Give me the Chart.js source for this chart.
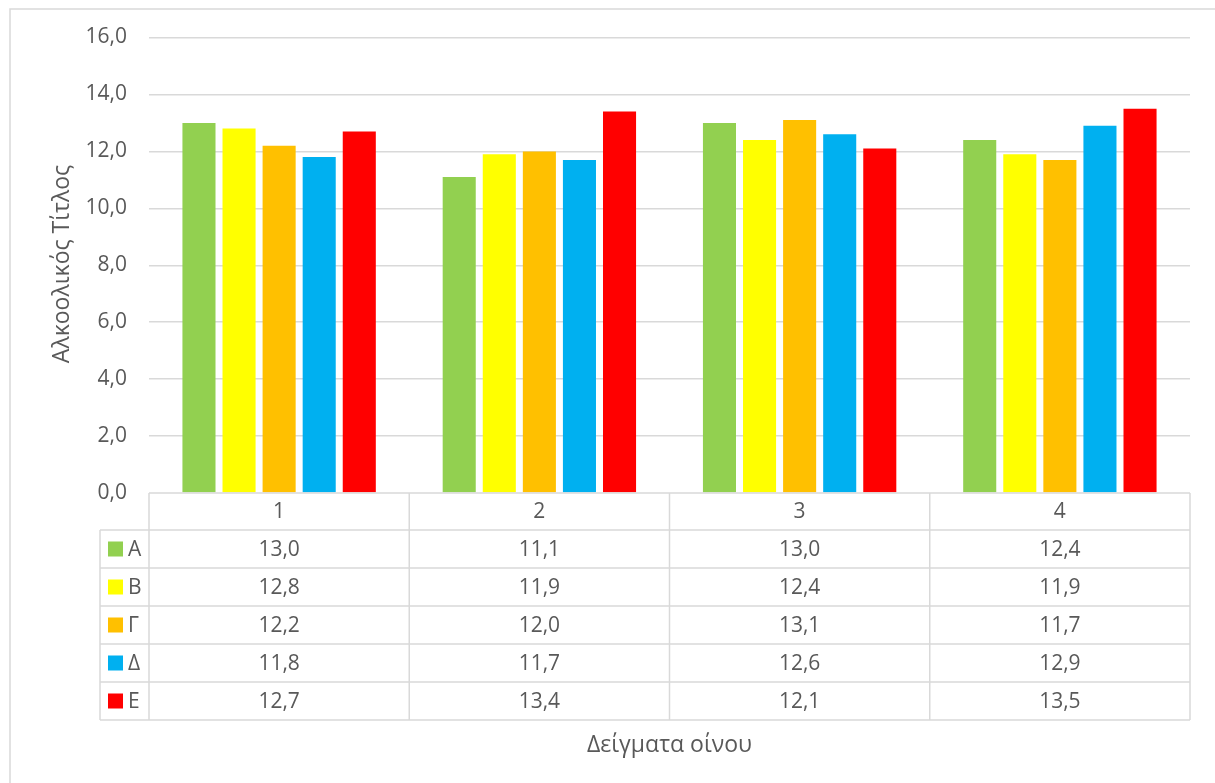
<!DOCTYPE html>
<html>
<head>
<meta charset="utf-8">
<title>Αλκοολικός Τίτλος</title>
<script src="https://cdn.jsdelivr.net/npm/chart.js@4.4.1/dist/chart.umd.min.js"></script>
<style>
  html, body { margin: 0; padding: 0; background: #ffffff; }
  #chart { display: block; }
</style>
</head>
<body>
<canvas id="chart" width="1215" height="783"></canvas>
<script>
// Wine samples (categories) and the alcohol content measured by each lab
const categories = ['1', '2', '3', '4'];
const seriesNames = ['Α', 'Β', 'Γ', 'Δ', 'Ε'];
const valuesA = [13.0, 11.1, 13.0, 12.4];
const valuesB = [12.8, 11.9, 12.4, 11.9];
const valuesG = [12.2, 12.0, 13.1, 11.7];
const valuesD = [11.8, 11.7, 12.6, 12.9];
const valuesE = [12.7, 13.4, 12.1, 13.5];
const seriesColors = ['#92D050', '#FFFF00', '#FFC000', '#00B0F0', '#FF0000'];
const yTicks = [0, 2, 4, 6, 8, 10, 12, 14, 16];
const yTitle = 'Αλκοολικός Τίτλος';
const xTitle = 'Δείγματα οίνου';

const allValues = [valuesA, valuesB, valuesG, valuesD, valuesE];
const FONT = '"Open Sans", "Noto Sans", sans-serif';
const TEXT = '#595959';
const LINE = '#d9d9d9';

const fmt = v => Number(v).toFixed(1).replace('.', ',');

// Frame, axis titles and the data table under the plot
const decorations = {
  id: 'decorations',
  beforeDraw(chart) {
    const ctx = chart.ctx;
    ctx.save();
    ctx.strokeStyle = LINE;
    ctx.lineWidth = 1.5;
    ctx.beginPath();
    ctx.moveTo(10, 783);
    ctx.lineTo(10, 9);
    ctx.lineTo(1215, 9);
    ctx.stroke();
    ctx.restore();
  },
  afterDraw(chart) {
    const ctx = chart.ctx;
    const area = chart.chartArea;
    const xs = chart.scales.x;
    const n = categories.length;
    const colW = (area.right - area.left) / n;
    const headerH = 37;
    const rowH = 38;
    const legendLeft = 100;
    const top = area.bottom;
    const rowsTop = top + headerH;
    const bottom = rowsTop + rowH * seriesNames.length;

    ctx.save();
    ctx.strokeStyle = LINE;
    ctx.lineWidth = 1.5;
    ctx.beginPath();
    // header row top (also the category axis line)
    ctx.moveTo(area.left, top);
    ctx.lineTo(area.right, top);
    // horizontal lines of the series rows
    for (let r = 0; r <= seriesNames.length; r++) {
      const y = rowsTop + r * rowH;
      ctx.moveTo(legendLeft, y);
      ctx.lineTo(area.right, y);
    }
    // column separators
    for (let c = 0; c <= n; c++) {
      const x = area.left + c * colW;
      ctx.moveTo(x, top);
      ctx.lineTo(x, bottom);
    }
    ctx.moveTo(legendLeft, rowsTop);
    ctx.lineTo(legendLeft, bottom);
    ctx.stroke();

    ctx.fillStyle = TEXT;
    ctx.font = '21px ' + FONT;
    ctx.textBaseline = 'middle';
    ctx.textAlign = 'center';
    categories.forEach((c, i) => {
      ctx.fillText(c, xs.getPixelForValue(i), top + headerH / 2 + 1);
    });
    seriesNames.forEach((name, r) => {
      const yc = rowsTop + r * rowH + rowH / 2;
      ctx.fillStyle = seriesColors[r];
      ctx.fillRect(108, yc - 7.5, 15, 15);
      ctx.fillStyle = TEXT;
      ctx.textAlign = 'left';
      ctx.fillText(name, 128, yc + 1);
      ctx.textAlign = 'center';
      allValues[r].forEach((v, i) => {
        ctx.fillText(fmt(v), xs.getPixelForValue(i), yc + 1);
      });
    });

    // axis titles
    ctx.font = '23px ' + FONT;
    ctx.textAlign = 'center';
    ctx.fillText(xTitle, (area.left + area.right) / 2, 745);
    ctx.translate(62, 264);
    ctx.rotate(-Math.PI / 2);
    ctx.fillText(yTitle, 0, 0);
    ctx.restore();
  }
};

new Chart(document.getElementById('chart'), {
  type: 'bar',
  data: {
    labels: categories,
    datasets: seriesNames.map((name, i) => ({
      label: name,
      data: allValues[i],
      backgroundColor: seriesColors[i],
      borderWidth: 0,
      categoryPercentage: 0.77,
      barPercentage: 0.825
    }))
  },
  options: {
    responsive: false,
    devicePixelRatio: 1,
    animation: false,
    layout: { padding: { left: 10, right: 25, top: 37.5, bottom: 290 } },
    plugins: {
      legend: { display: false },
      tooltip: { enabled: false }
    },
    scales: {
      x: { display: false },
      y: {
        min: 0,
        max: 16,
        afterFit(scale) { scale.width = 139; },
        afterBuildTicks(scale) { scale.ticks = yTicks.map(v => ({ value: v })); },
        border: { display: false },
        grid: {
          color: ctx => (ctx.tick && ctx.tick.value === 0 ? 'rgba(0,0,0,0)' : LINE),
          lineWidth: 1.5,
          drawTicks: false
        },
        ticks: {
          padding: 22,
          color: TEXT,
          font: { family: FONT, size: 21 },
          callback: v => fmt(v)
        }
      }
    }
  },
  plugins: [decorations]
});
</script>
</body>
</html>
